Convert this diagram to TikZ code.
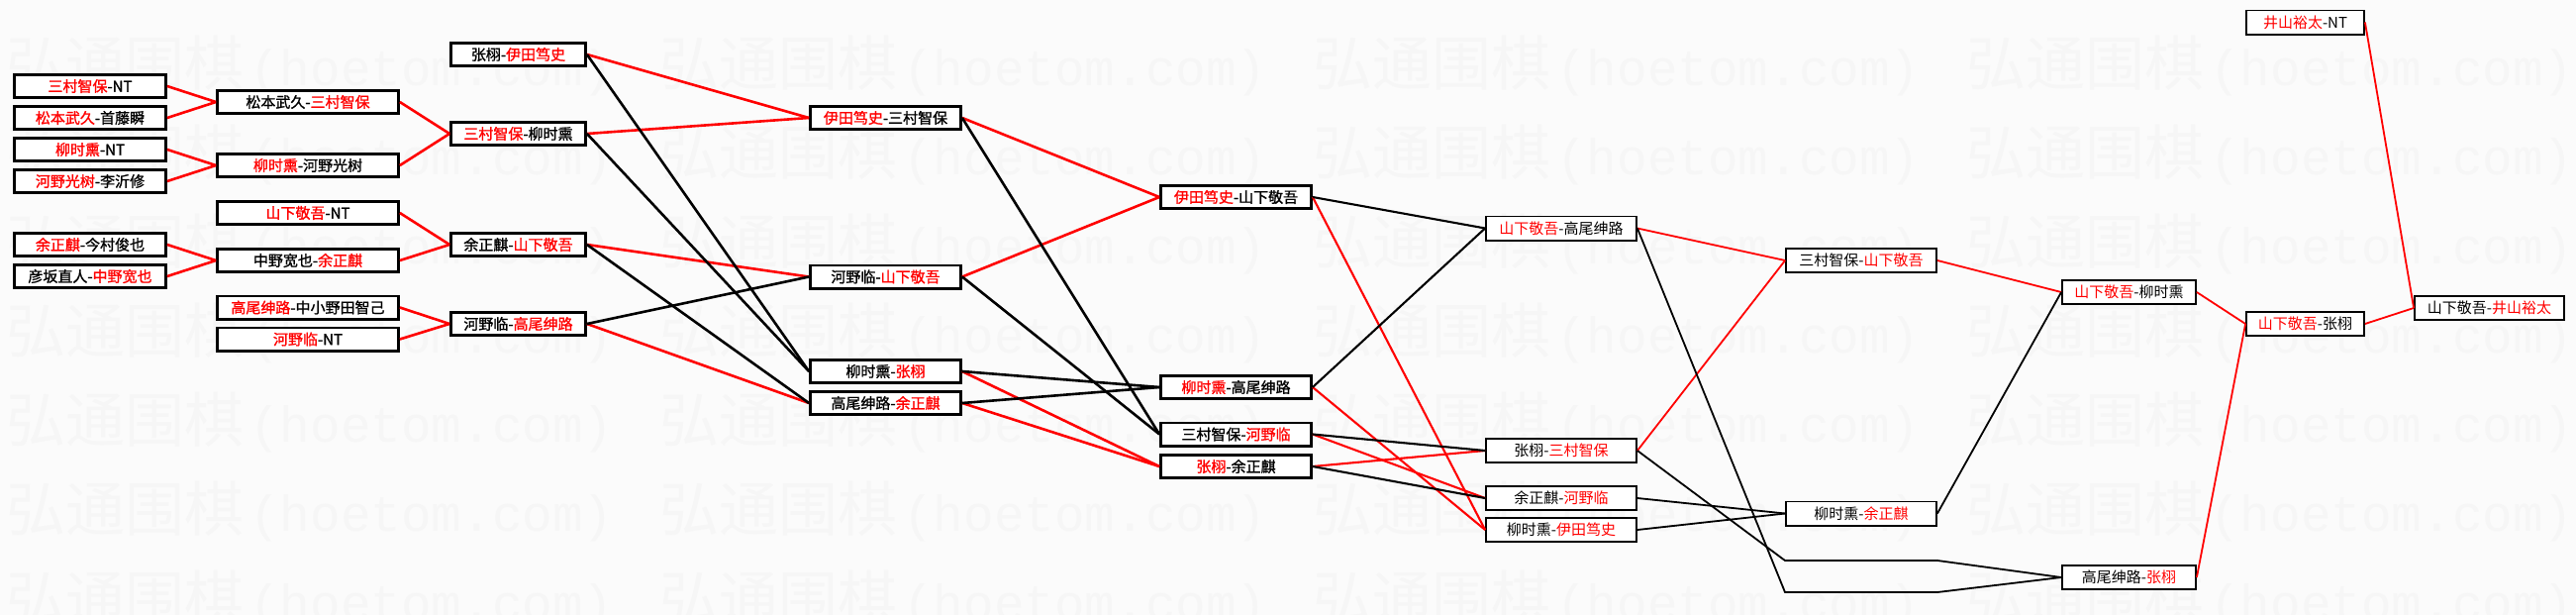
\documentclass[tikz,border=0pt]{standalone}
\usepackage{fontspec}
\newfontfamily\cjk{Noto Sans CJK SC}
\newfontfamily\cjkb[FakeBold=1.2]{Noto Sans CJK SC}
\newfontfamily\wmmono{Liberation Mono}
\newcommand\rd[1]{\textcolor{red}{#1}}
\begin{document}
\begin{tikzpicture}[x=1pt,y=-1pt,
  mbox/.style={draw=black, line width=2.8pt, fill=white, minimum height=23.2pt, inner sep=0pt, font=\cjkb\fontsize{15}{15}\selectfont},
  tbox/.style={mbox, line width=1.8pt, minimum height=24.2pt, font=\cjk\fontsize{15}{15}\selectfont},
  col1/.style={mbox, minimum width=153pt},
  col2/.style={mbox, minimum width=183pt},
  col3/.style={mbox, minimum width=136pt},
  col4/.style={mbox, minimum width=152pt},
  col5/.style={mbox, minimum width=152pt},
  col6/.style={tbox, minimum width=152pt},
  col7/.style={tbox, minimum width=152pt},
  col8/.style={tbox, minimum width=135pt},
  col9/.style={tbox, minimum width=119pt},
  col10/.style={tbox, minimum width=151pt},
  win/.style={draw=red, line width=2.6pt},
  lose/.style={draw=black, line width=2.6pt},
  winb/.style={draw=red, line width=2.1pt},
  loseb/.style={draw=black, line width=2.1pt},
  winc/.style={draw=red, line width=1.8pt},
  losec/.style={draw=black, line width=1.8pt},
  wm/.style={anchor=west, inner sep=0pt, text=black!3.5}
]
\fill[black!1.5] (0,0) rectangle (2602,621);
\useasboundingbox (0,0) rectangle (2602,621);
\begin{scope}
\clip (0,0) rectangle (2602,621);
\foreach \r in {0,...,6}{
  \foreach \c in {0,...,3}{
    \node[wm] (wm-\r-\c) at (6+660*\c, 67+90*\r) {{\cjk\fontsize{60}{60}\selectfont 弘通围棋}\hspace{6pt}{\wmmono\fontsize{51}{51}\selectfont (hoetom.com)}};
  }
}
\end{scope}

% column 1
\node[col1] (c1a) at (91,87)  {\rd{三村智保}-NT};
\node[col1] (c1b) at (91,119) {\rd{松本武久}-首藤瞬};
\node[col1] (c1c) at (91,151) {\rd{柳时熏}-NT};
\node[col1] (c1d) at (91,183) {\rd{河野光树}-李沂修};
\node[col1] (c1e) at (91,247) {\rd{余正麒}-今村俊也};
\node[col1] (c1f) at (91,279) {彦坂直人-\rd{中野宽也}};
% column 2
\node[col2] (c2a) at (311,103) {松本武久-\rd{三村智保}};
\node[col2] (c2b) at (311,167) {\rd{柳时熏}-河野光树};
\node[col2] (c2c) at (311,215) {\rd{山下敬吾}-NT};
\node[col2] (c2d) at (311,263) {中野宽也-\rd{余正麒}};
\node[col2] (c2e) at (311,310.5) {\rd{高尾绅路}-中小野田智己};
\node[col2] (c2f) at (311,342.5) {\rd{河野临}-NT};
% column 3
\node[col3] (c3a) at (523.5,55)  {张栩-\rd{伊田笃史}};
\node[col3] (c3b) at (523.5,135) {\rd{三村智保}-柳时熏};
\node[col3] (c3c) at (523.5,247) {余正麒-\rd{山下敬吾}};
\node[col3] (c3d) at (523.5,327) {河野临-\rd{高尾绅路}};
% column 4
\node[col4] (c4a) at (894.5,119)   {\rd{伊田笃史}-三村智保};
\node[col4] (c4b) at (894.5,279.5) {河野临-\rd{山下敬吾}};
\node[col4] (c4c) at (894.5,375)   {柳时熏-\rd{张栩}};
\node[col4] (c4d) at (894.5,407)   {高尾绅路-\rd{余正麒}};
% column 5
\node[col5] (c5a) at (1248.5,199)   {\rd{伊田笃史}-山下敬吾};
\node[col5] (c5b) at (1248.5,391)   {\rd{柳时熏}-高尾绅路};
\node[col5] (c5c) at (1248.5,438.5) {三村智保-\rd{河野临}};
\node[col5] (c5d) at (1248.5,471)   {\rd{张栩}-余正麒};
% column 6
\node[col6] (c6a) at (1577,230.5) {\rd{山下敬吾}-高尾绅路};
\node[col6] (c6b) at (1577,455)   {张栩-\rd{三村智保}};
\node[col6] (c6c) at (1577,503)   {余正麒-\rd{河野临}};
\node[col6] (c6d) at (1577,535)   {柳时熏-\rd{伊田笃史}};
% column 7
\node[col7] (c7a) at (1880,263)   {三村智保-\rd{山下敬吾}};
\node[col7] (c7b) at (1880,518.5) {柳时熏-\rd{余正麒}};
\coordinate (pu1) at (1803,566);
\coordinate (pu2) at (1957,566);
\coordinate (pl1) at (1803,598);
\coordinate (pl2) at (1957,598);
% column 8
\node[col8] (c8a) at (2150.5,295) {\rd{山下敬吾}-柳时熏};
\node[col8] (c8b) at (2150.5,583) {高尾绅路-\rd{张栩}};
% column 9
\node[col9] (c9a) at (2328.5,22.5) {\rd{井山裕太}-NT};
\node[col9] (c9b) at (2328.5,327)  {\rd{山下敬吾}-张栩};
% column 10
\node[col10] (c10) at (2514.5,311) {山下敬吾-\rd{井山裕太}};

% connectors
\foreach \a/\b in {c1a/c2a,c1b/c2a,c1c/c2b,c1d/c2b,c1e/c2d,c1f/c2d,
  c2a/c3b,c2b/c3b,c2c/c3c,c2d/c3c,c2e/c3d,c2f/c3d,
  c3a/c4a,c3b/c4a,c3c/c4b,c3d/c4d,
  c4a/c5a,c4b/c5a,c4c/c5d,c4d/c5d}
  \draw[win] (\a.east) -- (\b.west);
\foreach \a/\b in {c3a/c4c,c3b/c4c,c3c/c4d,c3d/c4b,
  c4a/c5c,c4b/c5c,c4c/c5b,c4d/c5b}
  \draw[lose] (\a.east) -- (\b.west);
\foreach \a/\b in {c5a/c6d,c5b/c6d,c5c/c6c,c5d/c6b}
  \draw[winb] (\a.east) -- (\b.west);
\foreach \a/\b in {c5a/c6a,c5b/c6a,c5c/c6b,c5d/c6c}
  \draw[loseb] (\a.east) -- (\b.west);
\foreach \a/\b in {c6a/c7a,c6b/c7a,c7a/c8a,c8a/c9b,c8b/c9b,c9a/c10,c9b/c10}
  \draw[winc] (\a.east) -- (\b.west);
\foreach \a/\b in {c6c/c7b,c6d/c7b,c7b/c8a}
  \draw[losec] (\a.east) -- (\b.west);
\draw[losec] (c6a.east) -- (pl1) -- (pl2) -- (c8b.west);
\draw[losec] (c6b.east) -- (pu1) -- (pu2) -- (c8b.west);
\end{tikzpicture}
\end{document}
